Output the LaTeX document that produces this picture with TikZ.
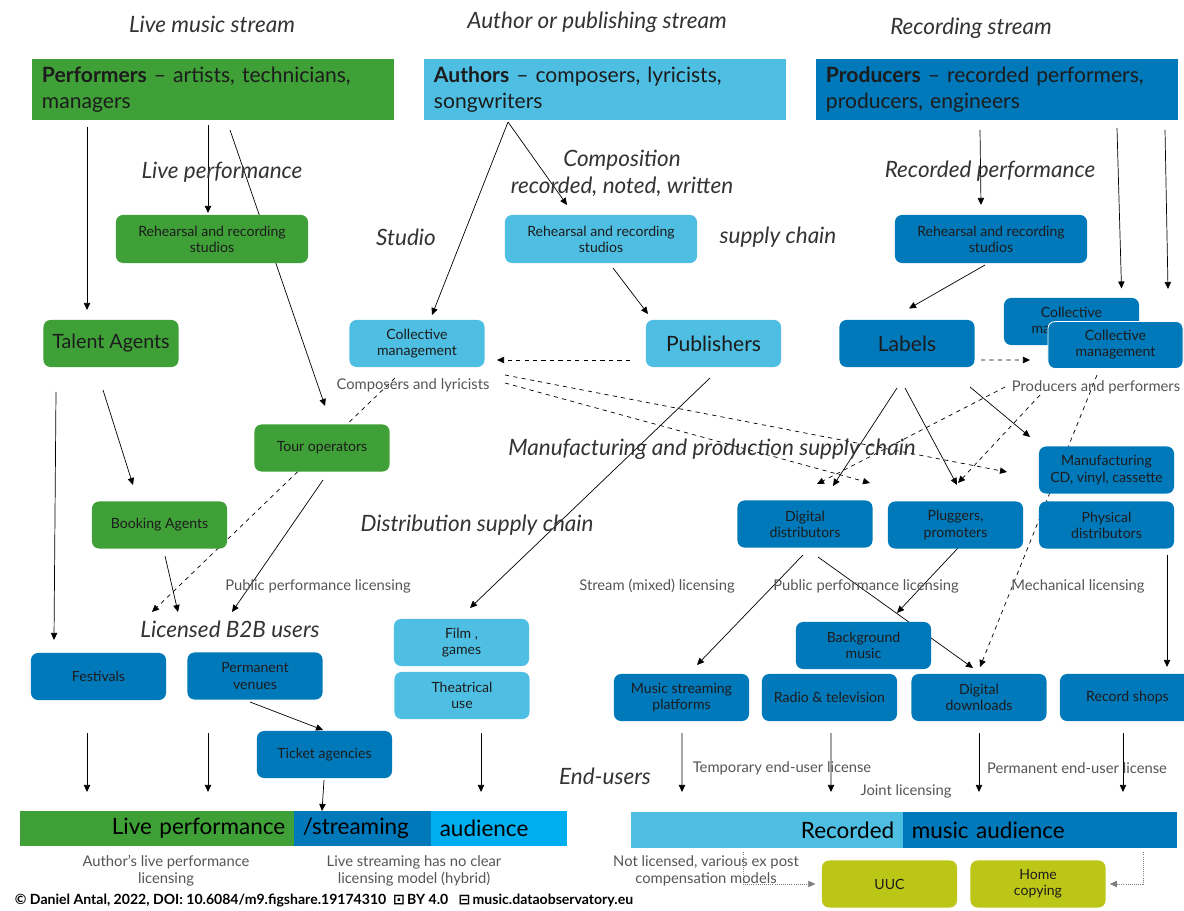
\documentclass[tikz,border=0pt]{standalone}
\usepackage{fontspec}
\setmainfont{Lato}
\newfontfamily\iconfont{DejaVu Sans}
\usetikzlibrary{positioning,arrows.meta,calc,backgrounds}

\definecolor{livegreen}{HTML}{3FA037}
\definecolor{authblue}{HTML}{4EBFE3}
\definecolor{recblue}{HTML}{0079BA}
\definecolor{audblue}{HTML}{00AEEF}
\definecolor{homeolive}{HTML}{BCC617}
\definecolor{boxtext}{HTML}{1C1C1C}
\definecolor{titlegrey}{HTML}{333333}
\definecolor{notegrey}{HTML}{555555}

\tikzset{
  box/.style={rounded corners=5pt, minimum width=3.375cm, minimum height=1.175cm,
    align=center, inner sep=2pt, text=boxtext, font=\fontsize{10}{11.5}\selectfont},
  greenbox/.style={box, fill=livegreen},
  lightbox/.style={box, fill=authblue},
  bluebox/.style={box, fill=recblue},
  olivebox/.style={box, fill=homeolive},
  studiobox/.style={minimum width=4.8cm, minimum height=1.2cm},
  bigbox/.style={font=\fontsize{15}{17}\selectfont},
  headbox/.style={minimum width=9.05cm, minimum height=1.525cm, inner xsep=0.25cm,
    text width=8.55cm, align=left, text=boxtext, font=\fontsize{15}{18.5}\selectfont},
  bar/.style={minimum height=0.875cm, inner xsep=0.22cm, inner ysep=0pt,
    text=black, font=\fontsize{16}{18}\selectfont},
  stream/.style={text=titlegrey, align=center, font=\itshape\fontsize{16}{19}\selectfont},
  note/.style={text=notegrey, align=center, font=\fontsize{10.5}{12}\selectfont},
  flow/.style={-{Triangle[length=5pt,width=4.5pt]}, line width=0.5pt},
  licflow/.style={flow, dashed},
  compflow/.style={flow, densely dotted, draw=gray},
}

\begin{document}
\begin{tikzpicture}[x=0.025cm, y=-0.025cm]
\useasboundingbox (0,0) rectangle (1184,911);

% streams
\node[stream] (livestream) at (212,24) {Live music stream};
\node[stream] (authstream) at (597,22) {Author or publishing stream};
\node[stream] (recstream) at (971,28) {Recording stream};

\node[headbox, fill=livegreen] (perf) at (213,89.5) {\mbox{\textbf{Performers} – artists, technicians,}\\managers};
\node[headbox, fill=authblue] (auth) at (605,89.5) {\mbox{\textbf{Authors} – composers, lyricists,}\\songwriters};
\node[headbox, fill=recblue] (prod) at (997,89.5) {\mbox{\textbf{Producers} – recorded performers,}\\producers, engineers};

% chain labels
\node[stream] (liveperf) at (222,172) {Live performance};
\node[stream] (comp) at (622,173) {Composition\\recorded, noted, written};
\node[stream] (recperf) at (990,171) {Recorded performance};
\node[stream] (studio) at (406,237) {Studio};
\node[stream] (supply) at (778,237) {supply chain};
\node[stream] (manuf) at (712,449) {Manufacturing and production supply chain};
\node[stream] (distrib) at (477,525) {Distribution supply chain};
\node[stream] (b2b) at (230,629) {Licensed B2B users};
\node[stream] (endusers) at (605,776) {End-users};

% studios
\node[greenbox, studiobox] (gs) at (212,239) {Rehearsal and recording\\studios};
\node[lightbox, studiobox] (ls) at (601,239) {Rehearsal and recording\\studios};
\node[bluebox, studiobox] (bs) at (991,239) {Rehearsal and recording\\studios};

% agents, publishers, labels
\node[greenbox, font=\fontsize{14}{16}\selectfont] (talent) at (111,343.5) {Talent Agents};
\node[lightbox] (lcm) at (417,343.5) {Collective\\management};
\node[lightbox, bigbox] (pub) at (713.5,343.5) {Publishers};
\node[bluebox, bigbox] (labels) at (907,343.5) {Labels};
\node[bluebox] (rcmb) at (1071.5,321.5) {Collective\\management};
\node[bluebox, draw=white, line width=0.6pt] (rcm) at (1115.5,345) {Collective\\management};

\node[note] (complab) at (413,385) {Composers and lyricists};
\node[note] (prodlab) at (1096,387) {Producers and performers};

\node[greenbox] (tour) at (322,448) {Tour operators};
\node[greenbox] (book) at (159.5,525) {Booking Agents};
\node[bluebox] (manu) at (1106.5,470) {Manufacturing\\CD, vinyl, cassette};
\node[bluebox] (digdist) at (805,524) {Digital\\distributors};
\node[bluebox] (plug) at (955.5,525) {Pluggers,\\promoters};
\node[bluebox] (phys) at (1106.5,525) {Physical\\distributors};

\node[note] (ppl1) at (318,586) {Public performance licensing};
\node[note] (streamlic) at (657,586) {Stream (mixed) licensing};
\node[note] (ppl2) at (866,586) {Public performance licensing};
\node[note] (mechlic) at (1078,586) {Mechanical licensing};

% users
\node[bluebox] (fest) at (98.5,676.5) {Festivals};
\node[bluebox] (venues) at (255,676) {Permanent\\venues};
\node[lightbox] (film) at (461.5,642.5) {Film ,\\games};
\node[lightbox] (theat) at (462,695.5) {Theatrical\\use};
\node[bluebox] (bgm) at (863.5,645.5) {Background\\music};
\node[bluebox] (msp) at (681.5,697.5) {Music streaming\\platforms};
\node[bluebox] (radio) at (829.5,697.5) {Radio \& television};
\node[bluebox] (ddl) at (979,697.5) {Digital\\downloads};
\node[bluebox] (shops) at (1127.5,697.5) {Record shops};
\node[bluebox] (ticket) at (324.5,754.5) {Ticket agencies};

\node[note] (templic) at (782,768) {Temporary end-user license};
\node[note] (joint) at (906,791) {Joint licensing};
\node[note] (permlic) at (1077,768) {Permanent end-user license};

% audience bars
\node[bar, fill=livegreen, text width=6.41cm, align=right] (livebar) at (157,828.5) {Live performance};
\node[bar, fill=recblue, text width=2.985cm, align=left] (streambar) at (362.5,828.5) {/streaming};
\node[bar, fill=audblue, text width=2.96cm, align=left] (audbar) at (499,828.5) {audience};
\node[bar, fill=authblue, minimum height=0.9cm, text width=6.36cm, align=right] (recbar) at (767,830) {Recorded};
\node[bar, fill=recblue, minimum height=0.9cm, text width=6.41cm, align=left] (musicbar) at (1040,830) {music audience};

\node[note] (authlic) at (166,871) {Author's live performance\\licensing};
\node[note] (streamnote) at (414,871) {Live streaming has no clear\\licensing model (hybrid)};
\node[note] (notlic) at (706,871) {Not licensed, various ex post\\compensation models};
\node[olivebox] (uuc) at (889.5,884) {UUC};
\node[olivebox] (home) at (1038,884) {Home\\copying};

\node[anchor=west, text=black, font=\bfseries\fontsize{10}{11}\selectfont] (credit) at (10,901)
  {© Daniel Antal, 2022, DOI: 10.6084/m9.figshare.19174310 \ {\iconfont ⊡}\,BY 4.0 \ \ {\iconfont ⊟}\,music.dataobservatory.eu};

\begin{pgfonlayer}{background}
% live stream
\draw[flow] ($(perf)+(-126,37.5)$) -- ($(talent)+(-24,-33.5)$);
\draw[flow] ($(perf)+(-5,35.5)$) -- ($(gs)+(-4,-26)$);
\draw[flow] ($(perf)+(17,40.5)$) -- ($(tour)+(3,-42)$);
\draw[flow] ($(talent)+(-55,48.5)$) -- ($(fest)+(-44.5,-36.5)$);
\draw[flow] ($(talent)+(-8,46.5)$) -- ($(book)+(-26.5,-40)$);
\draw[flow] ($(book)+(5.5,31)$) -- ($(b2b)+(-52,-17)$);
\draw[flow] ($(tour)+(1,32)$) -- ($(b2b)+(2,-17)$);
\draw[licflow] ($(lcm)+(-22,34.5)$) -- ($(b2b)+(-78,-17)$);
\draw[flow] ($(venues)+(-5,26)$) -- ($(ticket)+(-1.5,-24.5)$);

% author stream
\draw[flow] ($(auth)+(-97,32.5)$) -- ($(lcm)+(15,-28.5)$);
\draw[flow] ($(auth)+(-97,32.5)$) -- ($(ls)+(-34,-34)$);
\draw[flow] ($(ls)+(12,29)$) -- ($(pub)+(-65.5,-29.5)$);
\draw[licflow] ($(pub)+(-83.5,16.5)$) -- ($(lcm)+(80,16.5)$);
\draw[flow] ($(pub)+(-3.5,34.5)$) -- ($(film)+(8.5,-34.5)$);
\draw[licflow] ($(lcm)+(88,31.5)$) -- ($(manu)+(-99.5,2)$);
\draw[licflow] ($(lcm)+(88,39.5)$) -- ($(digdist)+(65,-41)$);

% recording stream
\draw[flow] ($(prod)+(-17,40.5)$) -- ($(bs)+(-10,-34)$);
\draw[flow] ($(prod)+(120,38.5)$) -- ($(rcmb)+(50,-33)$);
\draw[flow] ($(prod)+(168,40.5)$) -- ($(rcm)+(52.5,-56)$);
\draw[flow] ($(bs)+(-6,26)$) -- ($(labels)+(2,-35)$);
\draw[licflow] ($(labels)+(74,16.5)$) -- ($(rcm)+(-85.5,15)$);
\draw[flow] ($(labels)+(-10,44.5)$) -- ($(digdist)+(28,-38)$);
\draw[flow] ($(labels)+(-2,44.5)$) -- ($(plug)+(1.5,-40)$);
\draw[flow] ($(labels)+(63,43.5)$) -- ($(manu)+(-76.5,-33)$);
\draw[licflow] ($(rcm)+(-110.5,42)$) -- ($(digdist)+(12,-40)$);
\draw[licflow] ($(rcm)+(-75.5,50)$) -- ($(plug)+(2.5,-42)$);
\draw[licflow] ($(rcm)+(-18.5,30)$) -- ($(ddl)+(1,-30.5)$);
\draw[flow] ($(digdist)+(-2,31)$) -- ($(msp)+(15.5,-32.5)$);
\draw[flow] ($(digdist)+(13,33)$) -- ($(ddl)+(-6,-29.5)$);
\draw[flow] ($(plug)+(2.5,23)$) -- ($(bgm)+(33.5,-32.5)$);
\draw[flow] ($(phys)+(60.5,30)$) -- ($(shops)+(39.5,-30.5)$);

% into the audiences
\draw[flow] ($(fest)+(-11.5,56.5)$) -- ($(livebar)+(-70,-36.5)$);
\draw[flow] ($(venues)+(-47,57)$) -- ($(livebar)+(51,-36.5)$);
\draw[flow] ($(ticket)+(-0.5,25.5)$) -- ($(streambar)+(-40.5,-17.5)$);
\draw[flow] ($(theat)+(19,37.5)$) -- ($(audbar)+(-18,-36.5)$);
\draw[flow] ($(msp)+(0.5,35.5)$) -- ($(recbar)+(-85,-38)$);
\draw[flow] ($(radio)+(1.5,35.5)$) -- ($(recbar)+(64,-38)$);
\draw[flow] ($(ddl)+(0,35.5)$) -- ($(musicbar)+(-61,-38)$);
\draw[flow] ($(shops)+(-4.5,35.5)$) -- ($(musicbar)+(83,-38)$);

% compensation
\draw[compflow, shorten >=9\pgflinewidth] ($(recbar.south)+(-24,4)$) |- (uuc.west);
\draw[compflow] ($(musicbar.south)+(103,4)$) |- ($(home.east)+(4,0)$);
\end{pgfonlayer}
\end{tikzpicture}
\end{document}
